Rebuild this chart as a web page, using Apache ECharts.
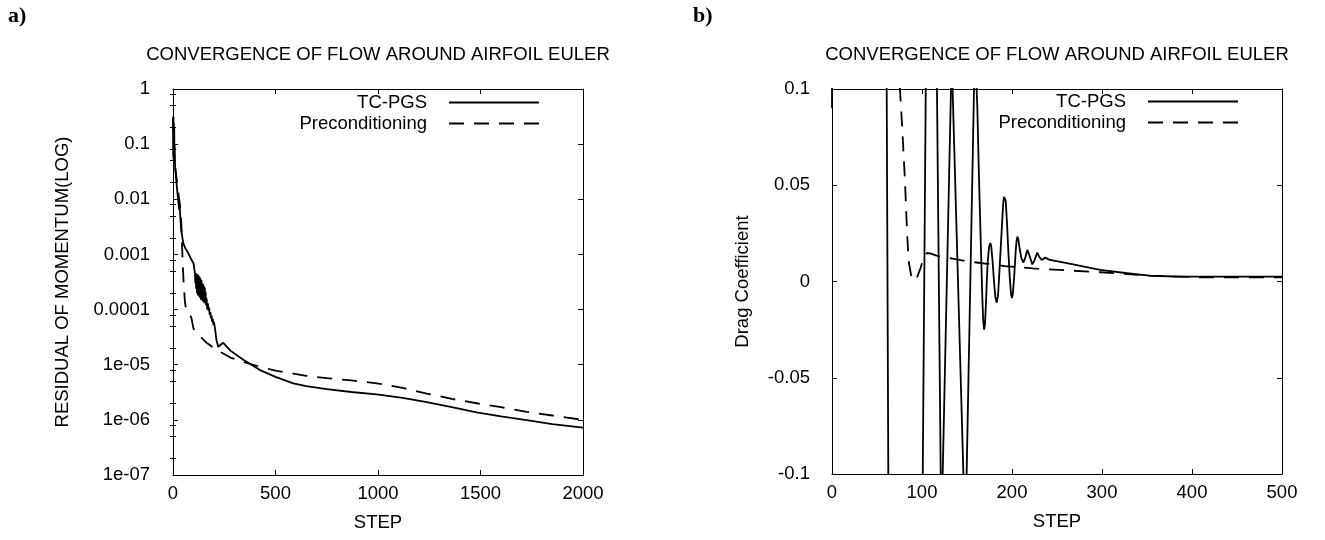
<!DOCTYPE html>
<html>
<head>
<meta charset="utf-8">
<title>Convergence of flow around airfoil (Euler)</title>
<script src="https://cdn.jsdelivr.net/npm/echarts@6/dist/echarts.min.js"></script>
<style>
  html, body { margin: 0; padding: 0; background: #ffffff; }
  #chart { width: 1325px; height: 540px; }
</style>
</head>
<body>
<div id="chart"></div>
<script>
// ---- Panel a): residual of momentum (log scale) vs. step ----
const residualTcPgs = [
  [0, 0.3], [1, 0.06], [2, 0.32], [3, 0.05], [4, 0.25], [5, 0.045], [6, 0.2], [7, 0.05],
  [8, 0.1], [10, 0.04], [15, 0.025], [20, 0.015], [25, 0.01], [30, 0.0065], [33, 0.0072],
  [36, 0.0045], [40, 0.0028], [50, 0.0016], [60, 0.0013], [75, 0.00105], [90, 0.0008],
  [100, 0.00069], [107, 0.00046],
  [109, 0.0003], [111, 0.00046], [113, 0.00024], [115, 0.00044], [117, 0.0002], [119, 0.00042],
  [121, 0.00018], [123, 0.00043], [125, 0.0002], [127, 0.0004], [129, 0.00017], [131, 0.00039],
  [133, 0.00016], [135, 0.00036], [137, 0.00015], [139, 0.00034], [141, 0.00015], [143, 0.0003],
  [145, 0.00014], [147, 0.00029], [149, 0.00014], [151, 0.00027], [153, 0.00013], [155, 0.00025],
  [157, 0.00013], [159, 0.00021], [161, 0.00012], [164, 0.00016], [167, 0.0001], [170, 0.00013],
  [173, 0.000095], [176, 0.00011], [179, 0.00008], [182, 0.00009], [185, 0.00007], [188, 0.000078],
  [191, 0.00006], [194, 0.000068], [197, 0.000052], [200, 0.00006], [205, 0.000045],
  [212, 0.000028], [221, 0.000021], [232, 0.000023], [245, 0.000025], [280, 0.000018],
  [343, 0.0000123], [424, 0.000008], [500, 0.000006], [587, 0.0000046], [650, 0.0000041],
  [750, 0.0000036], [870, 0.0000032], [994, 0.0000029], [1120, 0.0000025], [1238, 0.0000021],
  [1360, 0.0000017], [1481, 0.00000137], [1600, 0.00000116], [1725, 0.00000099],
  [1850, 0.00000084], [2000, 0.00000072]
];
const residualPrecond = [
  [0, 0.3], [3, 0.1], [6, 0.06], [10, 0.04], [15, 0.028], [20, 0.02], [25, 0.014], [30, 0.01],
  [35, 0.0075], [40, 0.004], [44, 0.0015], [48, 0.0006], [52, 0.0003], [58, 0.00014],
  [64, 0.0001], [70, 0.00009], [80, 0.000085], [90, 0.00007], [100, 0.000045], [130, 0.000033],
  [164, 0.000025], [213, 0.0000185], [280, 0.0000135], [343, 0.0000112], [424, 0.0000092],
  [500, 0.0000078], [587, 0.0000069], [650, 0.0000063], [750, 0.0000057], [870, 0.0000052],
  [994, 0.0000046], [1120, 0.0000038], [1238, 0.000003], [1360, 0.0000024], [1481, 0.000002],
  [1600, 0.0000017], [1725, 0.0000014], [1850, 0.0000012], [2000, 0.000001]
];
const residualTicks = [1, 0.1, 0.01, 0.001, 0.0001, 1e-5, 1e-6, 1e-7];
const residualTickLabels = ['1', '0.1', '0.01', '0.001', '0.0001', '1e-05', '1e-06', '1e-07'];
const residualMinorFactors = [2, 5, 8];

// ---- Panel b): drag coefficient vs. step ----
const dragTcPgs = [
  [0, 0.09], [1, 0.5], [56, 0.6], [59, 0.3], [63, -0.15], [80, -0.4], [100, -0.15], [105, 0.15],
  [110, 0.3], [116, 0.13], [121, -0.11], [122, -0.12], [123, -0.1], [132.2, 0.1], [133, 0.11],
  [134, 0.1], [146, -0.1], [147.8, -0.12], [149.6, -0.1], [157.8, 0.1], [159.2, 0.115],
  [160.7, 0.1], [161.5, 0.09], [163, 0.06], [165, 0.025], [167, -0.008], [168, -0.02],
  [169, -0.025], [170, -0.022], [171, -0.012], [172, 0.0], [173, 0.01], [174.5, 0.018],
  [176, 0.02], [177, 0.018], [178.5, 0.01], [180, 0.0], [181.5, -0.008], [183, -0.011],
  [184.5, -0.007], [186, 0.005], [188, 0.022], [190, 0.039], [191, 0.044], [192, 0.045],
  [193, 0.042], [194.5, 0.03], [196, 0.015], [197.5, 0.002], [199, -0.007], [200, -0.0086],
  [201, -0.006], [202.5, 0.003], [204, 0.015], [205, 0.021], [206, 0.0233], [207, 0.022],
  [208.5, 0.017], [210.5, 0.012], [212.6, 0.0098], [214.5, 0.012], [217, 0.0164], [219, 0.014],
  [222.6, 0.0089], [225, 0.011], [228, 0.015], [230, 0.013], [233, 0.0112], [237, 0.0124],
  [242, 0.0112], [261, 0.0095], [298, 0.006], [335, 0.0039], [353, 0.003], [380, 0.0026],
  [409, 0.0025], [500, 0.0025]
];
const dragPrecond = [
  [70, 0.4], [74, 0.15], [75.5, 0.1], [78, 0.08], [81, 0.053], [83, 0.03], [85, 0.011],
  [88, 0.003], [91.5, 0.0004], [94, 0.0015], [98, 0.0065], [102, 0.0125], [105.5, 0.0148],
  [110, 0.0145], [116, 0.0134], [150, 0.0105], [192, 0.008], [223, 0.0068], [298, 0.0048],
  [353, 0.003], [409, 0.0022], [500, 0.0022]
];

const seriesNames = ['TC-PGS', 'Preconditioning'];
const panelTitle = 'CONVERGENCE OF FLOW AROUND AIRFOIL EULER';
const panelLabels = ['a)', 'b)'];
const stepAxisName = 'STEP';
const residualAxisName = 'RESIDUAL OF MOMENTUM(LOG)';
const dragAxisName = 'Drag Coefficient';

// minor tick positions of the log axis: 2, 5 and 8 within every decade
const residualMinorTicks = [];
residualTicks.slice(1).forEach(function (decade) {
  residualMinorFactors.forEach(function (f) { residualMinorTicks.push(decade * f); });
});

const FONT = '"Liberation Sans", Arimo, Arial, Helvetica, sans-serif';
const SERIF = '"Liberation Serif", "Times New Roman", serif';
const FS = 18.5;
const INK = '#000000';

function residualLabel(v) {
  for (let i = 0; i < residualTicks.length; i++) {
    if (Math.abs(Math.log10(residualTicks[i]) - Math.log10(v)) < 1e-6) return residualTickLabels[i];
  }
  return '';
}
function plainNumber(v) { return String(v); }

const lineAxis = { show: true, onZero: false, lineStyle: { color: INK, width: 1 } };
const majorTick = { show: true, inside: true, length: 5, lineStyle: { color: INK, width: 1 } };
const minorTickStyle = { show: true, inside: true, length: 3, customValues: residualMinorTicks, lineStyle: { color: INK, width: 1 } };
const labelStyle = { color: INK, fontFamily: FONT, fontSize: FS };

function xAxes(gridIndex, max, interval) {
  return [
    {
      type: 'value', gridIndex: gridIndex, position: 'bottom', min: 0, max: max, interval: interval,
      name: stepAxisName, nameLocation: 'middle', nameGap: 38,
      nameTextStyle: labelStyle,
      axisLine: lineAxis, axisTick: majorTick, splitLine: { show: false },
      axisLabel: Object.assign({ margin: 9, formatter: plainNumber }, labelStyle)
    },
    {
      type: 'value', gridIndex: gridIndex, position: 'top', min: 0, max: max, interval: interval,
      axisLine: lineAxis, axisTick: majorTick, splitLine: { show: false },
      axisLabel: { show: false }
    }
  ];
}

function logAxis(position, extra) {
  return Object.assign({
    type: 'log', gridIndex: 0, position: position, min: 1e-7, max: 1, logBase: 10,
    splitLine: { show: false }, axisLabel: { show: false }
  }, extra);
}

function seriesOf(name, xi, yi, data, dashed) {
  return {
    name: name, type: 'line', xAxisIndex: xi, yAxisIndex: yi, data: data,
    symbol: 'none', clip: true, color: INK,
    lineStyle: { color: INK, width: 1.8, type: dashed ? [15, 10] : 'solid' }
  };
}

const option = {
  animation: false,
  backgroundColor: '#ffffff',
  title: [
    { text: panelLabels[0], left: 8, top: 5, padding: 0,
      textStyle: { fontFamily: SERIF, fontWeight: 'bold', fontSize: 22, color: INK } },
    { text: panelLabels[1], left: 693, top: 5, padding: 0,
      textStyle: { fontFamily: SERIF, fontWeight: 'bold', fontSize: 22, color: INK } },
    { text: panelTitle, left: 378, top: 45, padding: 0, textAlign: 'center',
      textStyle: { fontFamily: FONT, fontWeight: 'normal', fontSize: FS, color: INK } },
    { text: panelTitle, left: 1057, top: 45, padding: 0, textAlign: 'center',
      textStyle: { fontFamily: FONT, fontWeight: 'normal', fontSize: FS, color: INK } }
  ],
  legend: [
    { data: [seriesNames[0]], right: 785, top: 93 },
    { data: [seriesNames[1]], right: 785, top: 114 },
    { data: [seriesNames[0]], right: 86, top: 92 },
    { data: [seriesNames[1]], right: 86, top: 113 }
  ].map(function (l) {
    return Object.assign({
      orient: 'vertical', align: 'right', padding: 0, itemWidth: 90, itemHeight: 20,
      selectedMode: false,
      itemStyle: { opacity: 0 },
      textStyle: { color: INK, fontFamily: FONT, fontSize: FS, padding: [0, 17, 0, 0] }
    }, l);
  }),
  grid: [
    { left: 173, top: 89, width: 410, height: 386 },
    { left: 832, top: 89, width: 450, height: 385 }
  ],
  xAxis: xAxes(0, 2000, 500).concat(xAxes(1, 500, 100)),
  yAxis: [
    logAxis('left', {
      name: residualAxisName, nameLocation: 'middle', nameGap: 101, nameRotate: 90,
      nameTextStyle: labelStyle,
      axisLine: lineAxis, axisTick: majorTick,
      axisLabel: Object.assign({ margin: 23, formatter: residualLabel }, labelStyle)
    }),
    logAxis('right', { axisLine: lineAxis, axisTick: majorTick }),
    logAxis('left', { axisLine: { show: false }, axisTick: minorTickStyle }),
    logAxis('right', { axisLine: { show: false }, axisTick: minorTickStyle }),
    {
      type: 'value', gridIndex: 1, position: 'left', min: -0.1, max: 0.1, interval: 0.05,
      name: dragAxisName, nameLocation: 'middle', nameGap: 80, nameRotate: 90,
      nameTextStyle: labelStyle,
      axisLine: lineAxis, axisTick: majorTick, splitLine: { show: false },
      axisLabel: Object.assign({ margin: 22 }, labelStyle)
    },
    {
      type: 'value', gridIndex: 1, position: 'right', min: -0.1, max: 0.1, interval: 0.05,
      axisLine: lineAxis, axisTick: majorTick, splitLine: { show: false },
      axisLabel: { show: false }
    }
  ],
  series: [
    seriesOf(seriesNames[0], 0, 0, residualTcPgs, false),
    seriesOf(seriesNames[1], 0, 0, residualPrecond, true),
    seriesOf(seriesNames[0], 2, 4, dragTcPgs, false),
    seriesOf(seriesNames[1], 2, 4, dragPrecond, true)
  ]
};

const chart = echarts.init(document.getElementById('chart'), null, { renderer: 'canvas' });
chart.setOption(option);
</script>
</body>
</html>
